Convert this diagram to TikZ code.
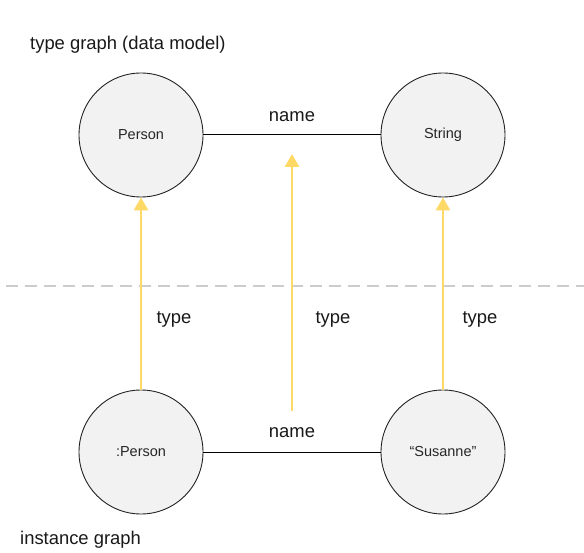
\documentclass[tikz,border=0pt]{standalone}
\usepackage{fontspec}
\setmainfont{Liberation Sans}
\usetikzlibrary{arrows.meta}
\definecolor{nodefill}{HTML}{F2F2F2}
\definecolor{typeyellow}{HTML}{FFD966}
\definecolor{sepgrey}{HTML}{CCCCCC}
\definecolor{edgegrey}{HTML}{222222}
\tikzset{
  gnode/.style={circle, draw=edgegrey, fill=nodefill, line width=0.9pt, minimum size=124pt, inner sep=0pt, font=\fontsize{14.5}{16}\selectfont, text=black!85},
  gedge/.style={draw=black, line width=1pt},
  typearrow/.style={draw=typeyellow, line width=2.8pt, -{Triangle[width=14pt,length=13pt]}},
  lbl/.style={font=\fontsize{18.4}{21}\selectfont, text=black!90, inner sep=0pt},
  sep/.style={draw=sepgrey, line width=2pt, dash pattern=on 12pt off 7pt}
}
\begin{document}
\begin{tikzpicture}[x=1pt,y=-1pt]
\useasboundingbox (0,0) rectangle (584,553);
\fill[white] (0,0) rectangle (584,553);
\coordinate (sepL) at (6,286);
\coordinate (sepR) at (584,286);
\draw[sep] (sepL) -- (sepR);
\node[gnode] (person) at (141,135) {Person};
\node[gnode] (string) at (443,135) {String};
\node[gnode] (iperson) at (141,452) {:Person};
\node[gnode] (susanne) at (443,452) {“Susanne”};
\draw[gedge] (person) -- (string);
\draw[gedge] (iperson) -- (susanne);
\node[lbl] (name1) at (292,117) {name};
\node[lbl] (name2) at (292,433) {name};
\coordinate (midbot) at (292,411);
\coordinate (midtop) at (292,154);
\draw[typearrow] (iperson.north) -- (person.south);
\draw[typearrow] (midbot) -- (midtop);
\draw[typearrow] (susanne.north) -- (string.south);
\node[lbl] (t1) at (174,319) {type};
\node[lbl] (t2) at (333,319) {type};
\node[lbl] (t3) at (480,319) {type};
\node[lbl, anchor=west] (title) at (30,45) {type graph (data model)};
\node[lbl, anchor=west] (inst) at (20,540) {instance graph};
\end{tikzpicture}
\end{document}
